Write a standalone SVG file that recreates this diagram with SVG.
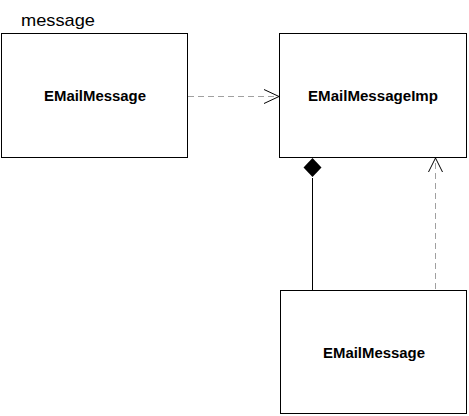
<svg xmlns="http://www.w3.org/2000/svg" width="469" height="416" viewBox="0 0 469 416">
<style>
.box{fill:#fff;stroke:#000;stroke-width:1}
.lbl{font-family:"Liberation Sans",Arial,sans-serif;font-weight:bold;font-size:14px;fill:#000;text-anchor:middle}
.dash{stroke:#a0a0a0;stroke-width:1;stroke-dasharray:6,4;fill:none}
.open{stroke:#000;stroke-width:1;fill:none}
</style>
<rect width="469" height="416" fill="#fff"/>
<text x="21" y="26" font-family="Liberation Sans, Arial, sans-serif" font-size="17" textLength="74" lengthAdjust="spacingAndGlyphs">message</text>
<g id="n1">
<rect class="box" x="1.5" y="33.5" width="186" height="124"/>
<text class="lbl" x="95" y="101" textLength="102" lengthAdjust="spacingAndGlyphs">EMailMessage</text>
</g>
<g id="n2">
<rect class="box" x="279.5" y="33.5" width="187" height="124"/>
<text class="lbl" x="373" y="101" textLength="130" lengthAdjust="spacingAndGlyphs">EMailMessageImp</text>
</g>
<g id="n3">
<rect class="box" x="280.5" y="290.5" width="186" height="123"/>
<text class="lbl" x="374" y="358" textLength="102" lengthAdjust="spacingAndGlyphs">EMailMessage</text>
</g>
<g id="connectors">
<line class="dash" x1="188" y1="96.5" x2="278" y2="96.5"/>
<polyline class="open" points="264,89.5 279,96.5 264,103.5"/>
<line class="dash" x1="435.5" y1="289" x2="435.5" y2="158"/>
<polyline class="open" points="428.5,172 435.5,158 442.5,172"/>
<line x1="312.5" y1="178" x2="312.5" y2="290" stroke="#000" stroke-width="1"/>
<polygon points="312.5,158 321.5,167.5 312.5,177 303.5,167.5" fill="#000"/>
</g>
</svg>
